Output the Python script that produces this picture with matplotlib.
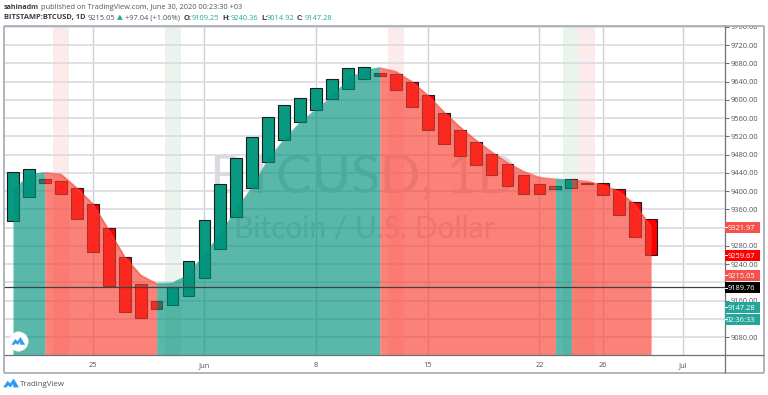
import numpy as np
import matplotlib
matplotlib.use("Agg")
import matplotlib.pyplot as plt
from matplotlib.lines import Line2D
from matplotlib.patches import Rectangle, Polygon
from matplotlib.transforms import Bbox

W, H = 768, 395
FONT = "Open Sans"
plt.rcParams["font.family"] = [FONT, "DejaVu Sans"]

candle_top = [9443, 9448, 9426, 9422, 9407, 9372, 9320, 9256, 9197, 9159, 9191, 9248, 9336, 9416,
              9473, 9519, 9562, 9589, 9605, 9626, 9646, 9671, 9672, 9660, 9656, 9639, 9611, 9572,
              9535, 9507, 9482, 9459, 9435, 9415, 9412, 9426, 9417, 9417, 9404, 9377, 9338]
candle_bottom = [9335, 9388, 9418, 9393, 9338, 9267, 9192, 9136, 9123, 9142, 9151, 9170, 9210, 9273,
                 9344, 9407, 9463, 9513, 9551, 9578, 9602, 9623, 9646, 9652, 9622, 9584, 9533, 9503,
                 9478, 9457, 9436, 9412, 9394, 9394, 9404, 9407, 9416, 9392, 9348, 9300, 9259.67]
candle_up = [1, 1, 0, 0, 0, 0, 0, 0, 0, 0, 1, 1, 1, 1, 1, 1, 1, 1, 1, 1, 1, 1, 1, 0, 0, 0, 0, 0,
             0, 0, 0, 0, 0, 0, 1, 1, 0, 0, 0, 0, 0]
ma_line = [9398, 9435, 9440, 9437, 9407, 9372, 9315, 9256, 9216, 9197, 9198, 9216, 9260, 9304,
           9359, 9407, 9468, 9512, 9549, 9578, 9606, 9643, 9664, 9670, 9662, 9640, 9610, 9574,
           9541, 9512, 9486, 9462, 9443, 9430, 9426, 9424, 9421, 9413, 9399, 9370, 9321.97]
trend_changes = [0, 2, 9, 23, 34, 35, 40]
trend_colors = ["g", "r", "g", "r", "g", "r"]
band_days = [3, 10, 24, 35, 36]
band_colors = ["r", "g", "r", "g", "r"]
xtick_days = [5, 12, 19, 26, 33, 37, 42]
xtick_labels = ["25", "Jun", "8", "15", "22", "26", "Jul"]
ytick_values = list(range(9080, 9761, 40))
hidden_ytick_labels = [9120, 9200, 9320]
crosshair = 9189.76
price_labels = ["9321.97", "9259.67", "9215.05", "9189.76", "9147.28", "02:36:33"]
price_label_y = [227.3, 255.3, 275.3, 287.5, 307, 319]
price_label_colors = ["#f6524b", "#ff0000", "#f6524b", "#000000", "#26a69a", "#26a69a"]

days = np.arange(len(candle_top))
top = np.array(candle_top, float)
bottom = np.array(candle_bottom, float)
ma = np.array(ma_line, float)
YMIN, YMAX = 9041, 9762
FS = 5.4


def fx(px):
    return px / W


def fy(py):
    return 1 - py / H


fig = plt.figure(figsize=(W / 100, H / 100), dpi=100, facecolor="white")
L, R, T, B = 4, 724.5, 26, 355
ax = fig.add_axes([fx(L), fy(B), (R - L) / W, (B - T) / H])
ax.set_xlim(-0.564, 44.6)
ax.set_ylim(YMIN, YMAX)
ax.set_facecolor("white")
for s in ax.spines.values():
    s.set_visible(False)

ax.set_axisbelow(True)
ax.yaxis.tick_right()
ax.set_yticks(ytick_values)
ax.set_yticklabels(["" if v in hidden_ytick_labels else f"{v:.2f}" for v in ytick_values])
ax.set_xticks(xtick_days)
ax.set_xticklabels(xtick_labels)
ax.tick_params(axis="y", length=3, width=0.8, color="#6f7178", labelsize=FS, labelcolor="#50535e", pad=1.5)
ax.tick_params(axis="x", length=0, labelsize=FS, labelcolor="#50535e", pad=5)
ax.grid(axis="y", color="#dcdce3", lw=1.3, zorder=1)
ax.grid(axis="x", color="#cfd0d8", lw=1.0, zorder=1)
clip = Bbox([[0, 0], [W, H - T]])
for lab in ax.get_yticklabels():
    lab.set_clip_box(clip)
    lab.set_clip_on(True)

for d, c in zip(band_days, band_colors):
    ax.axvspan(d - 0.5, d + 0.5, color="#fdeaea" if c == "r" else "#ebf4ec", lw=0, zorder=0.5)

ax.text(0.4995, 0.492, "BTCUSD, 1D", transform=ax.transAxes, ha="center", va="baseline",
        family="Lato", fontsize=38.5, color="#dadbdf", zorder=1.2)
ax.text(0.4995, 0.356, "Bitcoin / U.S. Dollar", transform=ax.transAxes, ha="center", va="baseline",
        family="Lato", fontsize=21.5, color="#dadbdf", zorder=1.2)

colors = ["#089981" if u else "#ff0000" for u in candle_up]
ax.bar(days, top - bottom, bottom=bottom, width=0.74, color=colors, edgecolor="#1c1c1c", lw=0.8, zorder=2)

fill_rgb = {"g": (0 / 255, 146 / 255, 123 / 255), "r": (250 / 255, 63 / 255, 49 / 255)}
for a, b, c in zip(trend_changes[:-1], trend_changes[1:], trend_colors):
    ax.fill_between(days[a:b + 1], ma[a:b + 1], YMIN, color=fill_rgb[c], alpha=0.65, lw=0, zorder=3)
    ax.plot(days[a:b + 1], ma[a:b + 1], color=fill_rgb[c], alpha=0.6, lw=1.2, zorder=3.1,
            solid_capstyle="butt")

ax.axhline(crosshair, color="#3f4146", lw=0.9, zorder=4)


def pxline(x0, y0, x1, y1, color, lw):
    fig.add_artist(Line2D([fx(x0), fx(x1)], [fy(y0), fy(y1)], color=color, lw=lw, zorder=4,
                          solid_capstyle="butt"))


# chart frame
frame = "#a6a8b0"
pxline(3.5, 26, 764, 26, frame, 1.2)
pxline(3.5, 26, 3.5, 373, frame, 1.2)
pxline(764, 26, 764, 373, frame, 1.2)
pxline(3.5, 373, 764, 373, frame, 1.2)
pxline(724.5, 26, 724.5, 373, "#6f7178", 0.9)
pxline(3.5, 355.3, 764, 355.3, "#6f7178", 0.9)

# price labels
for txt, y, c in zip(price_labels, price_label_y, price_label_colors):
    fig.add_artist(Rectangle((fx(724.5), fy(y + 5.5)), 35.5 / W, 11 / H, transform=fig.transFigure,
                             facecolor=c, edgecolor="none", zorder=5))
    fig.text(fx(755.5), fy(y), txt, color="white", fontsize=FS, ha="right", va="center_baseline", zorder=6)
    fig.add_artist(Line2D([fx(724.5), fx(727)], [fy(y), fy(y)], color="white", lw=0.7, zorder=6))

# header
hdr = "#3a3c44"
gray = "#50535e"
teal = "#26a69a"
fig.text(fx(4), fy(7.5), "sahinadm", fontsize=5.1, weight="bold", color=hdr, va="center")
fig.text(fx(41), fy(7.5), "published on TradingView.com, June 30, 2020 00:23:30 +03", fontsize=5.3,
         color=gray, va="center")
line2 = [(4, "BITSTAMP:BTCUSD, 1D", hdr, "bold"), (88, "9215.05", gray, "normal"),
         (117, "\u25b2", teal, "normal"), (125, "+97.04 (+1.06%)", gray, "normal"),
         (184, "O:", hdr, "bold"), (192, "9109.25", teal, "normal"),
         (222, "H:", hdr, "bold"), (231, "9240.36", teal, "normal"),
         (261, "L:", hdr, "bold"), (267, "9014.92", teal, "normal"),
         (297, "C:", hdr, "bold"), (305, "9147.28", teal, "normal")]
for x, s, c, w in line2:
    fig.text(fx(x), fy(18), s, fontsize=FS, color=c, weight=w, va="center")


# logos
def cloud(cx, cy, s, color, z):
    pts = [(-1, 0.55), (-0.45, -0.25), (-0.1, 0.1), (0.35, -0.55), (1, 0.55), (0.35, 0.55),
           (0.3, 0.1), (-0.05, 0.55), (-0.4, 0.3), (-0.6, 0.55)]
    fig.add_artist(Polygon([(fx(cx + s * a), fy(cy + s * b)) for a, b in pts], closed=True,
                           transform=fig.transFigure, facecolor=color, edgecolor=color, lw=0.3, zorder=z))


cloud(11, 383, 7.5, "#2e9bf0", 5)
fig.text(fx(20), fy(384), "TradingView", fontsize=FS + 0.3, color="#50535e", va="center")
fig.add_artist(Line2D([fx(18.2)], [fy(341)], marker="o", ms=14, mfc="white", mec="#eeeeee", mew=0.4,
                      zorder=5))
cloud(18.2, 341, 6.5, "#2e9bf0", 6)

fig.savefig("out.png", dpi=100, facecolor="white")
